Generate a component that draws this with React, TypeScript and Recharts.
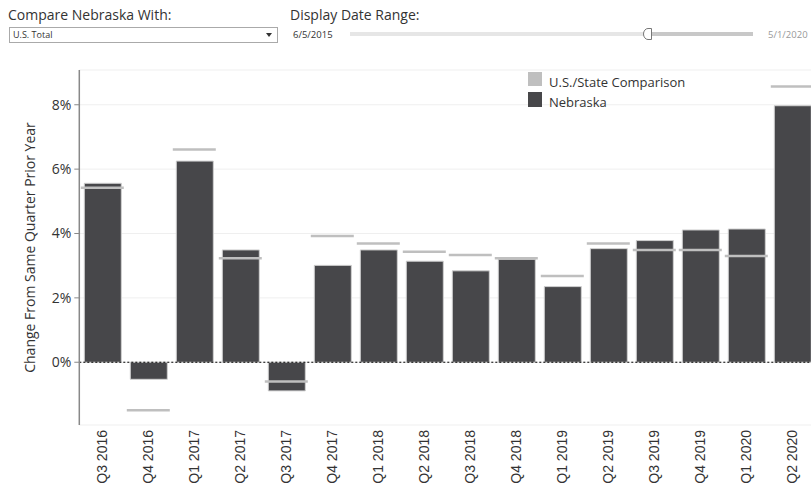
import React from 'react';
import { ComposedChart, Bar, Line, XAxis, YAxis, CartesianGrid, ReferenceLine } from 'recharts';

// values, % change from same quarter prior year
const quarters = [
  'Q3 2016', 'Q4 2016', 'Q1 2017', 'Q2 2017', 'Q3 2017', 'Q4 2017', 'Q1 2018', 'Q2 2018',
  'Q3 2018', 'Q4 2018', 'Q1 2019', 'Q2 2019', 'Q3 2019', 'Q4 2019', 'Q1 2020', 'Q2 2020',
];
const nebraska = [5.56, -0.53, 6.25, 3.49, -0.89, 3.01, 3.49, 3.14, 2.84, 3.2, 2.35, 3.53, 3.78, 4.11, 4.14, 7.97];
const comparison = [5.42, -1.49, 6.61, 3.23, -0.6, 3.92, 3.69, 3.43, 3.33, 3.23, 2.68, 3.69, 3.49, 3.49, 3.3, 8.57];
const yTicks = [0, 2, 4, 6, 8];

const data = quarters.map((q, i) => ({ quarter: q, ne: nebraska[i], us: comparison[i] }));

const uiFont = '"Open Sans", "Noto Sans", sans-serif';
const tickFont = '"Liberation Sans", Arial, sans-serif';
const DARK = '#47474a';
const LIGHT = '#bfbfbf';

const CompareMark = (props: any) => {
  const { cx, cy } = props;
  if (cx == null || cy == null) return null;
  return <line x1={cx - 21.5} x2={cx + 21.5} y1={cy} y2={cy} stroke={LIGHT} strokeWidth={2.5} />;
};

const QuarterTick = (props: any) => {
  const { x, y, payload } = props;
  return (
    <g transform={`translate(${x},${y})`}>
      <text transform="rotate(-90)" x={-5} y={0} dy="0.36em" textAnchor="end"
        style={{ fontFamily: tickFont, fontSize: 14, fill: '#333' }}>
        {payload.value}
      </text>
    </g>
  );
};

const YLabel = (props: any) => {
  const vb = props.viewBox || { y: 70, height: 355 };
  const cy = vb.y + vb.height / 2;
  return (
    <text transform={`translate(35,${cy}) rotate(-90)`} textAnchor="middle"
      style={{ fontFamily: uiFont, fontSize: 14, fill: '#333' }}>
      Change From Same Quarter Prior Year
    </text>
  );
};

const Header = () => (
  <svg width={811} height={50} style={{ position: 'absolute', left: 0, top: 0, zIndex: 2, fontFamily: uiFont }}>
    <text x={8} y={20} fontSize={14} fill="#333">Compare Nebraska With:</text>
    <rect x={9.5} y={27.5} width={268} height={15} fill="#fff" stroke="#aaa" />
    <text x={13} y={38} fontSize={9} fill="#333">U.S. Total</text>
    <path d="M266,33 L272,33 L269,37 Z" fill="#333" />
    <text x={290} y={20} fontSize={14} fill="#333">Display Date Range:</text>
    <text x={293} y={38} fontSize={9.5} fill="#333">6/5/2015</text>
    <rect x={350} y={32} width={295} height={4} fill="#e6e6e6" />
    <rect x={650} y={32} width={103} height={4} fill="#c8c8c8" />
    <path d="M651.5,28.5 L648,28.5 A4.5,5.5 0 0 0 648,39.5 L651.5,39.5 Z" fill="#fff" stroke="#777" />
    <text x={768} y={38} fontSize={9.5} fill="#999">5/1/2020</text>
  </svg>
);

const LegendBox = () => (
  <svg width={200} height={52} style={{ position: 'absolute', left: 520, top: 60, zIndex: 2, fontFamily: uiFont }}>
    <rect x={8} y={12} width={14} height={14} fill={LIGHT} />
    <text x={29} y={26.5} fontSize={13} fill="#333">U.S./State Comparison</text>
    <rect x={8} y={32} width={14} height={15} fill={DARK} />
    <text x={29} y={46.5} fontSize={13} fill="#333">Nebraska</text>
  </svg>
);

export default function App() {
  return (
    <div style={{ position: 'absolute', left: 0, top: 0, width: 811, height: 488, overflow: 'hidden', background: '#fff' }}>
      <Header />
      <LegendBox />
      <div style={{ position: 'absolute', left: 0, top: 0 }}>
        <ComposedChart width={830} height={488} data={data} margin={{ top: 70, right: 14.7, left: 0, bottom: 0 }}>
          <CartesianGrid vertical={false} stroke="#efefef" />
          <XAxis dataKey="quarter" height={63} axisLine={false} tickLine={false} tickSize={0} tickMargin={0}
            interval={0} tick={<QuarterTick />} />
          <YAxis width={79.3} domain={[-1.95, 9.08]} ticks={yTicks} allowDataOverflow
            tickFormatter={(v: number) => `${v}%`} tickSize={5} tickMargin={3}
            axisLine={{ stroke: '#888', strokeWidth: 1.5 }} tickLine={{ stroke: '#888' }}
            tick={{ fontSize: 14, fill: '#333', fontFamily: uiFont }}
            label={<YLabel />} />
          <Bar dataKey="ne" fill={DARK} stroke="#d0d0d0" strokeWidth={1} barSize={37} isAnimationActive={false} />
          <ReferenceLine y={0} stroke="#000" strokeDasharray="2 2" strokeWidth={1} />
          <Line dataKey="us" stroke="none" dot={<CompareMark />} activeDot={false} legendType="none" isAnimationActive={false} />
        </ComposedChart>
      </div>
    </div>
  );
}
